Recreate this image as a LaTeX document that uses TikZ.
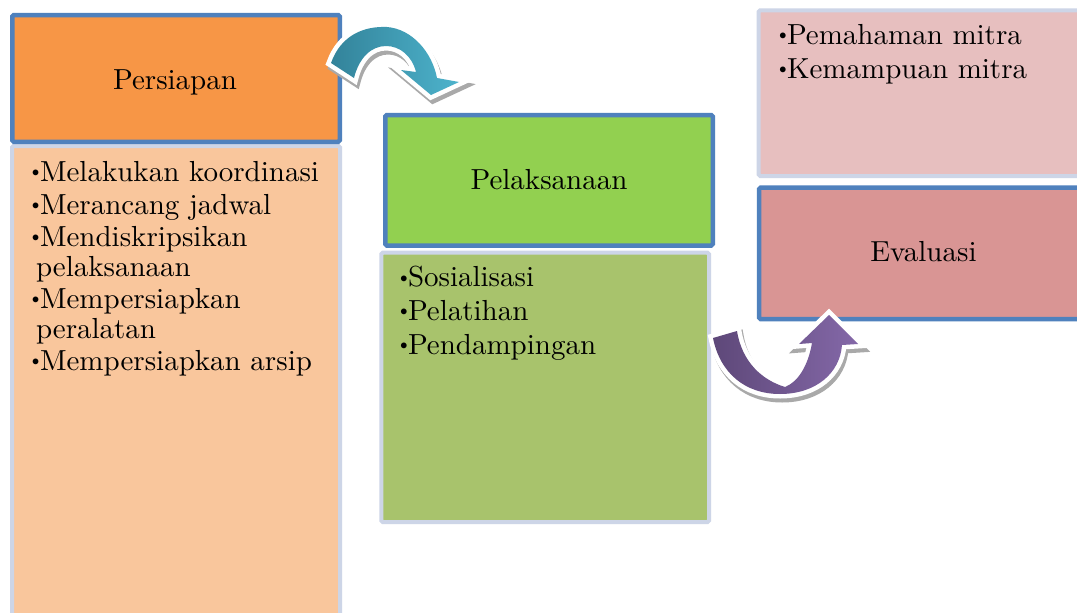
\documentclass[tikz,border=0pt]{standalone}
\usepackage{fontspec}
\setmainfont{lmroman10-regular.otf}
\usepackage{xcolor}
\definecolor{bordblue}{HTML}{4F81BD}
\definecolor{lav}{HTML}{CDD5E7}
\definecolor{orangeH}{HTML}{F79646}
\definecolor{orangeB}{HTML}{F9C69C}
\definecolor{greenH}{HTML}{92D050}
\definecolor{greenB}{HTML}{A8C36C}
\definecolor{pinkB}{HTML}{E7BFBF}
\definecolor{pinkH}{HTML}{D99594}
\definecolor{tealD}{HTML}{33839A}
\definecolor{tealL}{HTML}{4DB3CC}
\definecolor{purpD}{HTML}{5E4879}
\definecolor{purpL}{HTML}{8468A8}
\definecolor{shadowG}{HTML}{A9A9A9}
\newcommand{\bul}{\makebox[10pt][l]{\hspace{-2pt}\raisebox{3.6pt}{\fontsize{20}{20}\selectfont\textbullet}}}
\newcommand{\tealpath}[1]{\path[#1] (331,63) .. controls (341,35) and (364,26) .. (387,27)
  .. controls (412,29) and (432,52) .. (437,78) -- (459,82) -- (431,95) -- (401,70) -- (416,72)
  .. controls (412,56) and (400,46) .. (386,46)
  .. controls (371,46) and (359,58) .. (354,78) -- cycle;}
\newcommand{\purppath}[1]{\path[#1] (713,338) .. controls (720,373) and (745,394) .. (780,394)
  .. controls (816,394) and (840,373) .. (842,345) -- (858,344) -- (829,315) -- (799,344) -- (812,343)
  .. controls (808,366) and (798,382) .. (785,387)
  .. controls (762,380) and (742,362) .. (737,331) -- cycle;}
\begin{document}
\begin{tikzpicture}[x=1pt,y=-1pt,
  every node/.style={inner sep=0pt,outer sep=0pt},
  hdr/.style={draw=bordblue,line width=4.5pt,rounded corners=1.5pt,rectangle,anchor=north west},
  bodybox/.style={draw=lav,line width=4pt,rounded corners=1.5pt,rectangle,anchor=north west},
  txt/.style={font=\fontsize{29}{29.5}\selectfont},
  lst/.style={txt,align=left,anchor=north west},
  outl/.style={draw=white,fill=white,line width=9pt,line join=miter,miter limit=4},
  shad/.style={draw=shadowG,fill=shadowG,line width=9pt,line join=miter,miter limit=4,shift={(2,4)}}]
\useasboundingbox (0,0) rectangle (1077,613);
\clip (0,0) rectangle (1077,613);
\fill[white] (0,0) rectangle (1077,613);
% boxes
\node[bodybox,fill=orangeB,minimum width=328pt,minimum height=504pt] (persB) at (12,146) {};
\node[hdr,fill=orangeH,minimum width=327.5pt,minimum height=126.75pt] (persH) at (12.25,15) {};
\node[bodybox,fill=greenB,minimum width=327.7pt,minimum height=269.3pt] (pelB) at (381.3,252.7) {};
\node[hdr,fill=greenH,minimum width=327.5pt,minimum height=130.5pt] (pelH) at (385.25,115) {};
\node[bodybox,fill=pinkB,minimum width=341.3pt,minimum height=165.7pt] (evB) at (758.7,10.3) {};
\node[hdr,fill=pinkH,minimum width=340.8pt,minimum height=131.7pt] (evH) at (759.2,187.5) {};
% headers
\node[txt,anchor=base] (persT) at (175,89) {Persiapan};
\node[txt,anchor=base] (pelT) at (549,189.3) {Pelaksanaan};
\node[txt,anchor=base] (evT) at (923.5,261.7) {Evaluasi};
% lists
\node[lst] (persL) at (30,161.4) {\bul Melakukan koordinasi\\[3pt]
  \bul Merancang jadwal\\[3pt]
  \bul Mendiskripsikan\\
  \hspace*{6pt}pelaksanaan\\[3pt]
  \bul Mempersiapkan\\
  \hspace*{6pt}peralatan\\[3pt]
  \bul Mempersiapkan arsip};
\node[lst] (pelL) at (398,266.3) {\bul Sosialisasi\\[4.3pt]
  \bul Pelatihan\\[4.3pt]
  \bul Pendampingan};
\node[lst] (evL) at (777,24.4) {\bul Pemahaman mitra\\[4.5pt]
  \bul Kemampuan mitra};
% arrows
\tealpath{shad}
\tealpath{outl}
\tealpath{left color=tealD,right color=tealL}
\purppath{shad}
\purppath{outl}
\purppath{left color=purpD,right color=purpL}
\end{tikzpicture}
\end{document}
